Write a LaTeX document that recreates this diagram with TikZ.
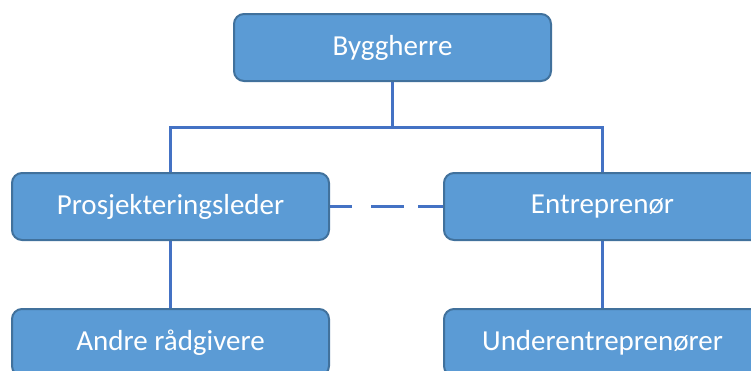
\documentclass[tikz,border=0pt]{standalone}
\usepackage{fontspec}
\setmainfont{Carlito}
\usetikzlibrary{backgrounds}
\definecolor{boxfill}{HTML}{5B9BD5}
\definecolor{boxline}{HTML}{41719C}
\definecolor{linkline}{HTML}{4472C4}
\begin{document}
\begin{tikzpicture}[x=1pt,y=-1pt,
  orgbox/.style={draw=boxline, line width=2pt, fill=boxfill, rounded corners=10pt,
    minimum width=317pt, minimum height=67pt, inner sep=0pt, text=white,
    font=\fontsize{29}{33}\selectfont},
  link/.style={draw=linkline, line width=3pt},
  dashlink/.style={link, dash pattern=on 22pt off 19pt on 33pt off 14pt on 40pt}]
  \useasboundingbox (0,0) rectangle (751,370);
  \clip (0,0) rectangle (751,370);
  % organisation boxes
  \node[orgbox] (top) at (392.5,47.5) {Byggherre};
  \node[orgbox] (pl) at (170.5,206.5) {Prosjekteringsleder};
  \node[orgbox] (en) at (602.5,206.5) {Entreprenør};
  \node[orgbox] (ar) at (170.5,342.5) {Andre rådgivere};
  \node[orgbox] (ue) at (602.5,342.5) {Underentreprenører};
  \coordinate (j) at (392.5,127);
  % connectors
  \begin{scope}[on background layer]
    \draw[link] (top.south) -- (j);
    \draw[link] (pl.north) |- (j) -| (en.north);
    \draw[link] (pl.south) -- (ar.north);
    \draw[link] (en.south) -- (ue.north);
    \draw[dashlink] (pl.east) -- (en.west);
  \end{scope}
\end{tikzpicture}
\end{document}
